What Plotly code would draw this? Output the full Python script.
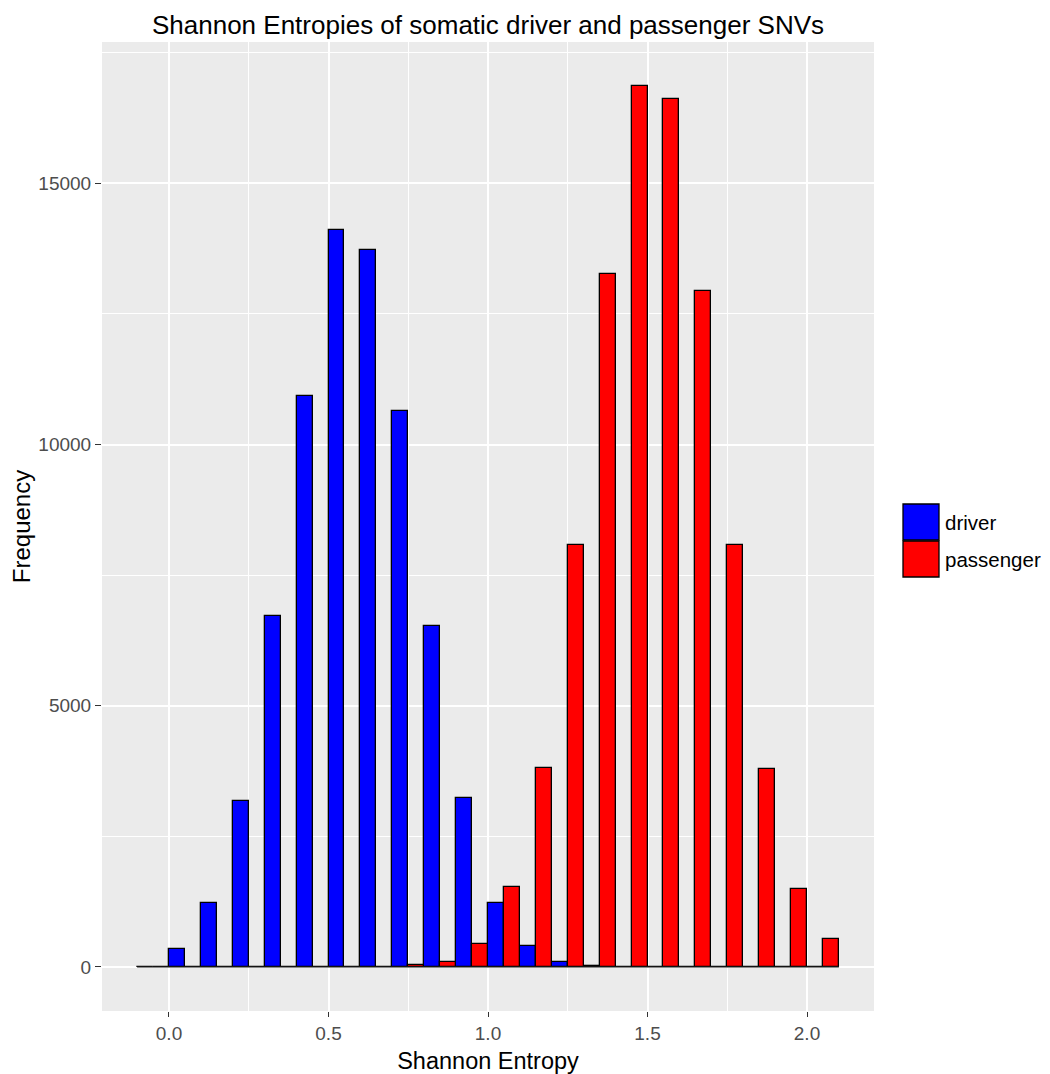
import plotly.graph_objects as go

# ---- data ----
bin_left = [round(-0.1 + 0.1 * i, 1) for i in range(22)]   # bin left edges, width 0.1
bin_width = 0.1
driver = [0, 340, 1222, 3171, 6710, 10937, 14097, 13724, 10650, 6519, 3229,
          1222, 400, 90, 25, 0, 0, 0, 0, 0, 0, 0]
passenger = [0, 0, 0, 0, 0, 0, 0, 0, 30, 95, 435,
             1521, 3816, 8068, 13259, 16861, 16607, 12946, 8068, 3791, 1496, 531]
series_names = ["driver", "passenger"]
series_colors = ["#0000FF", "#FF0000"]
x_ticks = [0.0, 0.5, 1.0, 1.5, 2.0]
y_ticks = [0, 5000, 10000, 15000]

centers = [b + bin_width / 2 for b in bin_left]

FONT = "Liberation Sans, Arial, sans-serif"
OFF = 8                      # page body margin offset
W, H = 1050 - OFF, 1074 - OFF
ML, MR, MT, MB = 102 - OFF, 176, 42 - OFF, 63

fig = go.Figure()

# baseline of zero-height bins (ggplot draws these as outline lines)
fig.add_trace(go.Scatter(
    x=[bin_left[0], bin_left[-1] + bin_width], y=[0, 0], mode="lines",
    line=dict(color="#1a1a1a", width=1.2), showlegend=False, hoverinfo="skip"))

for name, vals, col in zip(series_names, [driver, passenger], series_colors):
    fig.add_trace(go.Bar(
        x=centers, y=vals, name=name, marker=dict(color=col, line=dict(color="black", width=1.3)),
        showlegend=False))

ymax = max(max(driver), max(passenger))
xlo, xhi = bin_left[0], bin_left[-1] + bin_width
xpad = 0.05 * (xhi - xlo)

fig.update_layout(
    width=W, height=H,
    margin=dict(l=ML, r=MR, t=MT, b=MB, autoexpand=False),
    paper_bgcolor="white", plot_bgcolor="#EBEBEB",
    barmode="group", bargap=0, bargroupgap=0,
    font=dict(family=FONT, color="black"),
    title=dict(text="Shannon Entropies of somatic driver and passenger SNVs",
               x=0.5, xref="paper", xanchor="center",
               y=1, yref="paper", yanchor="bottom", pad=dict(b=8),
               font=dict(size=26, color="black", family=FONT)),
    xaxis=dict(range=[xlo - xpad, xhi + xpad], tickvals=x_ticks, tickformat=".1f",
               showgrid=True, gridcolor="white", gridwidth=1.8,
               minor=dict(dtick=0.25, tick0=0, showgrid=True, gridcolor="white", gridwidth=0.9),
               zeroline=False, ticks="outside", ticklen=5, tickwidth=1.2, tickcolor="#333333",
               tickfont=dict(size=19, color="#4D4D4D"),
               title=dict(text="Shannon Entropy", font=dict(size=23.5, color="black"), standoff=12)),
    yaxis=dict(range=[-0.05 * ymax, 1.05 * ymax], tickvals=y_ticks, tickformat="d",
               showgrid=True, gridcolor="white", gridwidth=1.8,
               minor=dict(dtick=2500, tick0=0, showgrid=True, gridcolor="white", gridwidth=0.9),
               zeroline=False, ticks="outside", ticklen=6, tickwidth=1.2, tickcolor="#333333",
               tickfont=dict(size=19, color="#4D4D4D"),
               title=dict(text="Frequency", font=dict(size=24, color="black"), standoff=11)),
)

# ---- manual legend (large ggplot-style keys), positions given in page pixels ----
pw = W - ML - MR
ph = H - MT - MB
def px_x(p):
    return (p - OFF - ML) / pw
def px_y(p):
    return (H - MB - (p - OFF)) / ph

key_x0, key_x1 = 903, 939
key_tops = [504, 541]
key_h = 36
for name, col, top in zip(series_names, series_colors, key_tops):
    fig.add_shape(type="rect", xref="paper", yref="paper",
                  x0=px_x(key_x0), x1=px_x(key_x1), y0=px_y(top + key_h), y1=px_y(top),
                  fillcolor=col, line=dict(color="black", width=1.3))
    fig.add_annotation(xref="paper", yref="paper", x=px_x(key_x1 + 4), y=px_y(top + key_h / 2),
                       text=name, showarrow=False, xanchor="left", yanchor="middle",
                       font=dict(size=20.5, color="black", family=FONT))

fig.write_html("out.html")
